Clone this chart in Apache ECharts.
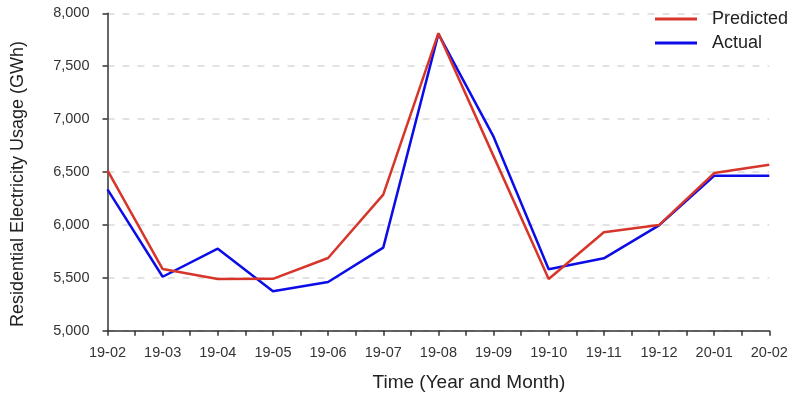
<!DOCTYPE html>
<html>
<head>
<meta charset="utf-8">
<script src="https://cdn.jsdelivr.net/npm/echarts@6/dist/echarts.min.js"></script>
<style>html,body{margin:0;padding:0;background:#fff}#c{width:800px;height:396px}</style>
</head>
<body>
<div id="c"></div>
<script>
const categories = ['19-02','19-03','19-04','19-05','19-06','19-07','19-08','19-09','19-10','19-11','19-12','20-01','20-02'];
const predicted = [6515, 5583, 5489, 5490, 5687, 6286, 7812, 6650, 5489, 5930, 5998, 6490, 6569];
const actual    = [6336, 5510, 5775, 5372, 5460, 5785, 7805, 6834, 5580, 5684, 5995, 6465, 6465];
const yTicks = [5000, 5500, 6000, 6500, 7000, 7500, 8000];
const xTitle = 'Time (Year and Month)';
const yTitle = 'Residential Electricity Usage (GWh)';

const font = 'Liberation Sans, Arial, sans-serif';
const chart = echarts.init(document.getElementById('c'), null, {renderer: 'canvas'});
chart.setOption({
  animation: false,
  grid: {left: 107.5, right: 30.7, top: 13.3, bottom: 65.3},
  legend: {
    orient: 'vertical', left: 650, top: 5, itemGap: 6,
    icon: 'rect', itemWidth: 42, itemHeight: 3,
    textStyle: {fontFamily: font, fontSize: 18, color: '#222', padding: [0, 0, 0, 10]},
    data: ['Predicted', 'Actual']
  },
  graphic: [
    {type: 'text', x: 469, y: 383, style: {text: xTitle, font: '19px ' + font, fill: '#222', align: 'center', verticalAlign: 'middle'}},
    {type: 'text', x: 18, y: 184, rotation: Math.PI / 2, style: {text: yTitle, font: '18px ' + font, fill: '#222', align: 'center', verticalAlign: 'middle'}}
  ],
  xAxis: {
    type: 'value', min: 0, max: categories.length - 1, interval: 0.5,
    axisLine: {show: true, lineStyle: {color: '#333', width: 1.5}},
    axisTick: {show: true, length: 5, lineStyle: {color: '#333', width: 1.5}},
    splitLine: {show: false},
    axisLabel: {
      fontFamily: font, fontSize: 14.5, color: '#333', margin: 15,
      formatter: v => Number.isInteger(v) ? categories[v] : ''
    }
  },
  yAxis: {
    type: 'value', min: yTicks[0], max: yTicks[yTicks.length - 1], interval: 500,
    axisLine: {show: true, lineStyle: {color: '#333', width: 1.5}},
    axisTick: {show: true, length: 5, lineStyle: {color: '#333', width: 1.5}},
    splitLine: {show: true, lineStyle: {color: '#d9d9d9', width: 1.5, type: [7, 8]}},
    axisLabel: {
      fontFamily: font, fontSize: 14.5, color: '#333', margin: 18,
      formatter: v => v.toLocaleString('en-US')
    }
  },
  series: [
    {
      name: 'Predicted', type: 'line', symbol: 'none', z: 3,
      data: predicted.map((v, i) => [i, v]),
      lineStyle: {color: '#d8352a', width: 2.5}, itemStyle: {color: '#d8352a'}
    },
    {
      name: 'Actual', type: 'line', symbol: 'none', z: 2,
      data: actual.map((v, i) => [i, v]),
      lineStyle: {color: '#0c0ce8', width: 2.5}, itemStyle: {color: '#0c0ce8'}
    }
  ]
});
</script>
</body>
</html>
